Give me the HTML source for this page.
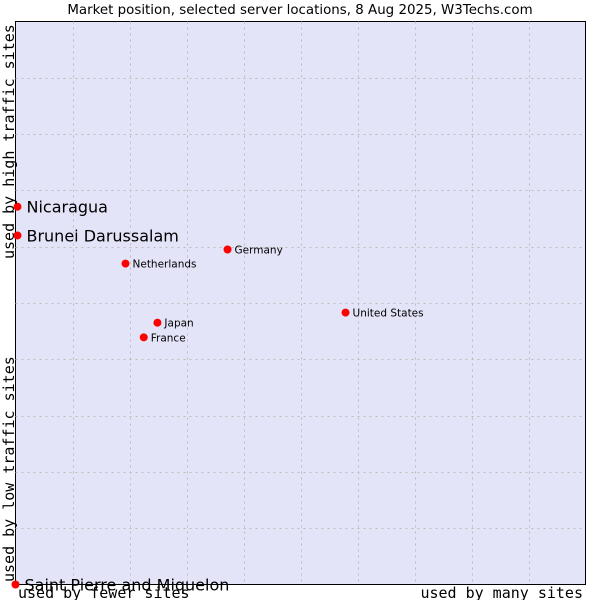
<!DOCTYPE html>
<html><head><meta charset="utf-8"><style>
body{margin:0;background:#fff;width:600px;height:600px;overflow:hidden}
svg{display:block}
</style></head><body>
<svg id="chart" width="600" height="600" xmlns="http://www.w3.org/2000/svg">
<text x="300" y="14" text-anchor="middle" font-family="DejaVu Sans, sans-serif" font-size="13.4" fill="#000">Market position, selected server locations, 8 Aug 2025, W3Techs.com</text>
<rect x="15.5" y="21.5" width="570" height="563" fill="#e4e4f8" stroke="#000"/>
<g id="grid"></g>
<g id="points"></g>
<text transform="translate(14,259) rotate(-90)" font-family="DejaVu Sans Mono, Liberation Mono, monospace" font-size="15" fill="#000">used by high traffic sites</text>
<text transform="translate(14,582) rotate(-90)" font-family="DejaVu Sans Mono, Liberation Mono, monospace" font-size="15" fill="#000">used by low traffic sites</text>
<text x="18" y="598" font-family="DejaVu Sans Mono, Liberation Mono, monospace" font-size="15" fill="#000">used by fewer sites</text>
<text x="583" y="598" text-anchor="end" font-family="DejaVu Sans Mono, Liberation Mono, monospace" font-size="15" fill="#000">used by many sites</text>
</svg>
<script>
const names = ["Nicaragua","Brunei Darussalam","Saint Pierre and Miquelon","Germany","Netherlands","United States","Japan","France"];
const xValues = [0.35,0.35,0,37.2,19.3,57.9,24.9,22.5];
const yValues = [67.1,62.0,0,59.5,57.0,48.3,46.5,43.9];
const bigLabel = [true,true,true,false,false,false,false,false];
const gridTicks = [10,20,30,40,50,60,70,80,90];
const L=15.5,T=21.5,W=570,H=563;
function sx(v){return L+v/100*W;}
function sy(v){return T+H-v/100*H;}
const NS="http://www.w3.org/2000/svg";
const g=document.getElementById('grid');
gridTicks.forEach(t=>{
  const a=document.createElementNS(NS,'line');
  
  
  const x=Math.round(sx(t))+0.5;
  a.setAttribute('x1',x);a.setAttribute('x2',x);a.setAttribute('y1',T);a.setAttribute('y2',T+H);
  a.setAttribute('stroke','#bcbcbc');a.setAttribute('stroke-dasharray','2,4');
  g.appendChild(a);
  const b=document.createElementNS(NS,'line');
  
  
  const y=Math.round(sy(t))+0.5;
  b.setAttribute('y1',y);b.setAttribute('y2',y);b.setAttribute('x1',L);b.setAttribute('x2',L+W);
  b.setAttribute('stroke','#bcbcbc');b.setAttribute('stroke-dasharray','2,4');
  g.appendChild(b);
});
const p=document.getElementById('points');
names.forEach((n,i)=>{
  const x=sx(xValues[i]),y=sy(yValues[i]);
  const c=document.createElementNS(NS,'circle');
  
  
  c.setAttribute('cx',x);c.setAttribute('cy',y);c.setAttribute('r',4);c.setAttribute('fill','#f00');
  p.appendChild(c);
  const t=document.createElementNS(NS,'text');
  
  
  t.setAttribute('x',x+(bigLabel[i]?9:7));
  t.setAttribute('y',y+(bigLabel[i]?6:4));
  t.setAttribute('font-family','DejaVu Sans, sans-serif');
  t.setAttribute('font-size',bigLabel[i]?'16':'10.5');
  t.setAttribute('fill','#000');
  t.textContent=n;
  p.appendChild(t);
});
</script>
</body></html>
